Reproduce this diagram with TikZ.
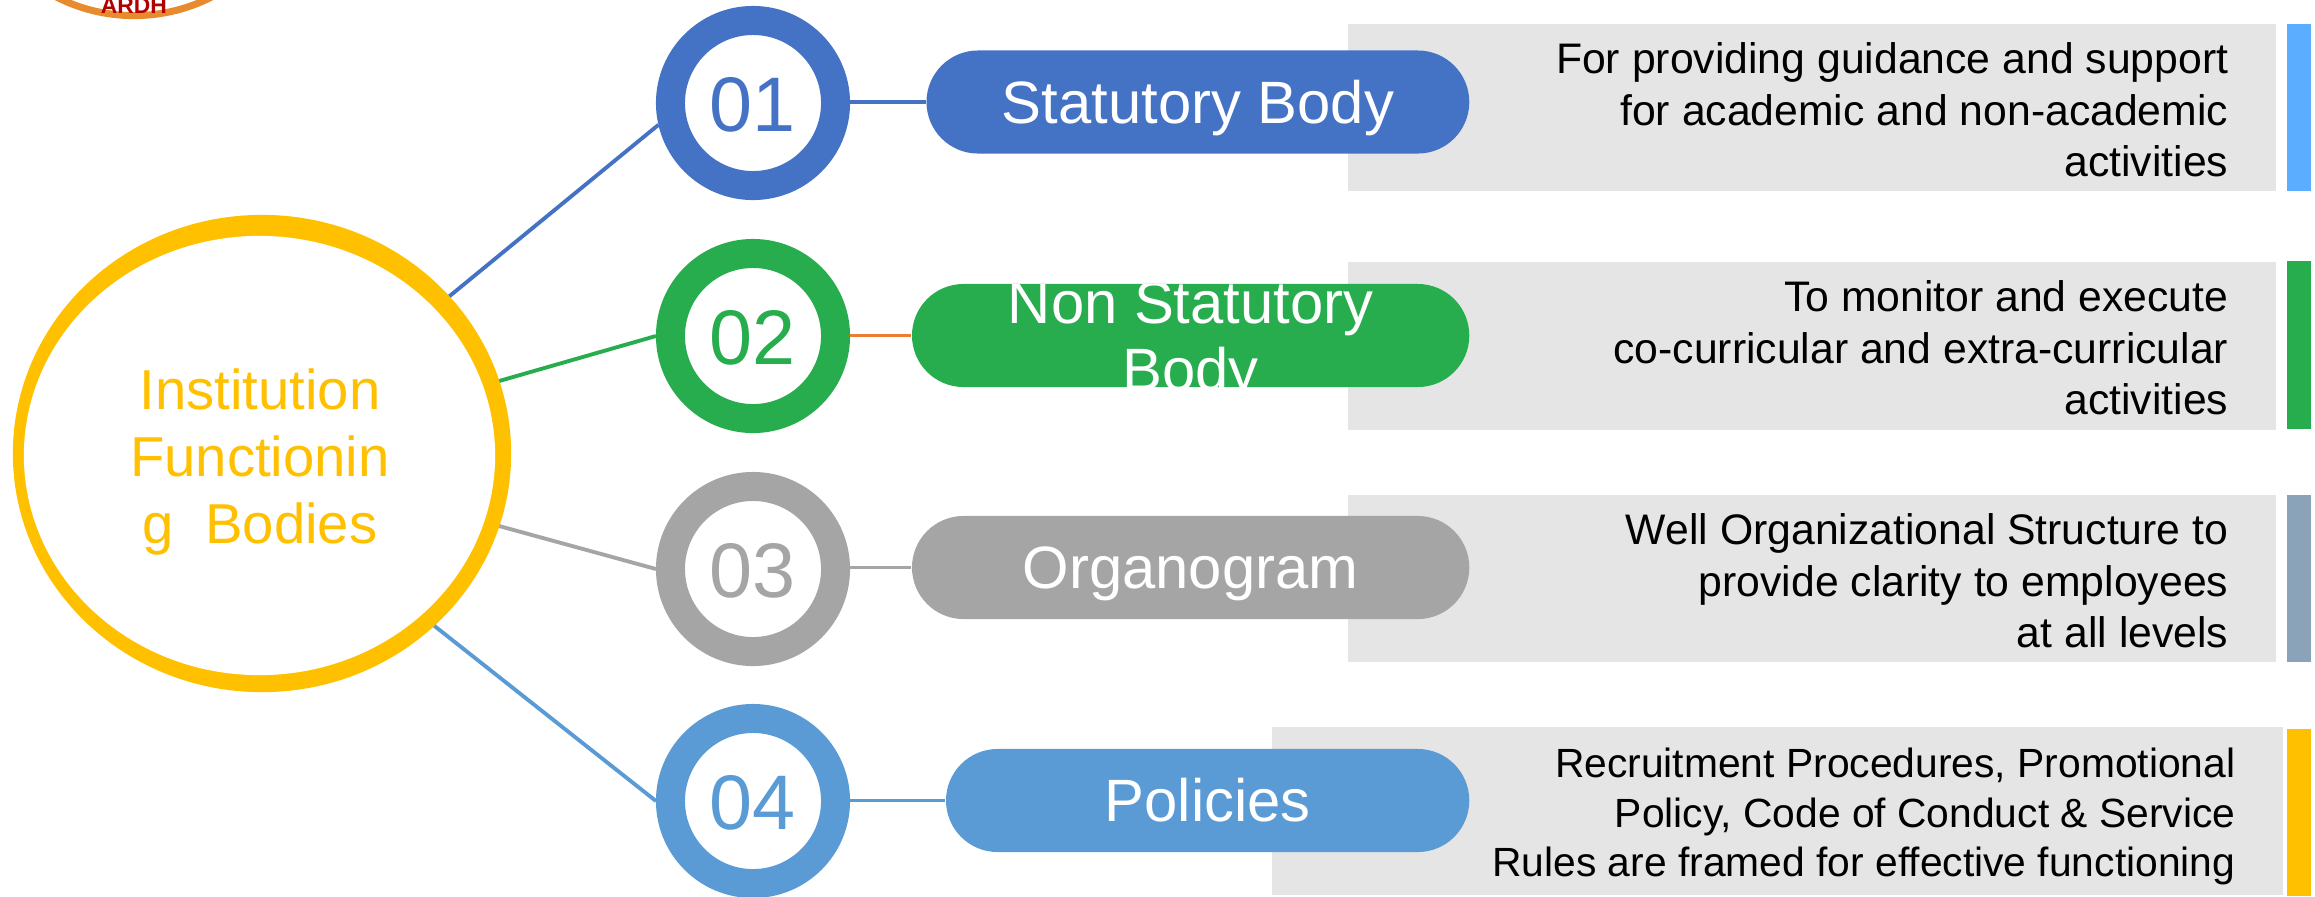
\documentclass[tikz,border=0pt]{standalone}
\usepackage{fontspec}
\setmainfont{Liberation Sans}
\usetikzlibrary{shapes.geometric}
\usetikzlibrary{shapes.misc}

\definecolor{cblue}{HTML}{4472C4}
\definecolor{cgreen}{HTML}{27AD4E}
\definecolor{cgrey}{HTML}{A5A5A5}
\definecolor{csky}{HTML}{5B9BD5}
\definecolor{camber}{HTML}{FFC000}
\definecolor{corange}{HTML}{ED7D31}
\definecolor{cpanel}{HTML}{E5E5E5}
\definecolor{cbarsky}{HTML}{5BAEFF}
\definecolor{cbarslate}{HTML}{8AA3B8}
\definecolor{clogo}{HTML}{E88B2E}

\tikzset{
    hubring/.style={
        ellipse, fill=camber, inner sep=0pt, outer sep=0pt,
        minimum width=4.98cm, minimum height=4.77cm
    },
    hubhole/.style={
        ellipse, fill=white, inner sep=0pt, outer sep=0pt,
        minimum width=4.71cm, minimum height=4.39cm
    },
    hublabel/.style={
        text=camber, align=center, inner sep=0pt,
        font=\fontsize{16}{19}\selectfont
    },
    numring/.style={
        circle, draw=#1, fill=white, line width=.29cm,
        minimum size=1.65cm, inner sep=0pt, text=#1,
        text height=.56cm, text depth=0pt,
        font=\fontsize{22}{26}\selectfont
    },
    pill/.style={
        rounded rectangle, fill=#1, text=white, inner sep=0pt,
        minimum height=1.03cm, anchor=east,
        text height=.42cm, text depth=0pt,
        font=\fontsize{17}{19}\selectfont
    },
    panel/.style={
        rectangle, fill=cpanel, inner sep=0pt,
        minimum height=1.67cm, anchor=east
    },
    note/.style={
        inner sep=0pt, anchor=east, align=right,
        font=\fontsize{12.15}{14.6}\selectfont
    },
    bar/.style={
        rectangle, fill=#1, inner sep=0pt, anchor=west,
        minimum width=.24cm, minimum height=1.67cm
    },
    link/.style={draw=#1, line width=1.1pt}
}

\begin{document}
\begin{tikzpicture}[x=.01cm, y=-.01cm]

    \useasboundingbox (0,0) rectangle (2315,896);

    % Logo
    \node[
        circle,
        draw=clogo,
        fill=white,
        line width=.07cm,
        minimum size=3.41cm,
        inner sep=0pt
    ] (logo) at (134,-155) {};
    \node[anchor=base, text=red!70!black, font=\bfseries\fontsize{6.5}{7}\selectfont] (logotext) at (134,13) {ARDH};

    % Hub
    \node[hubring] (hub) at (262,453.5) {};
    \node[hubhole] (hubinner) at (259.5,455.5) {};
    \node[hublabel] (hubtext) at (260,462) {Institution\\Functionin\\g\ \ Bodies};

    % Numbers
    \node[numring=cblue] (num1) at (753,103) {01};
    \node[numring=cgreen] (num2) at (753,336) {02};
    \node[numring=cgrey] (num3) at (753,569) {03};
    \node[numring=csky] (num4) at (753,801) {04};

    % Panels
    \node[panel, minimum width=9.28cm] (panel1) at (2277,107.5) {};
    \node[panel, minimum width=9.28cm] (panel2) at (2277,346) {};
    \node[panel, minimum width=9.28cm] (panel3) at (2277,578.5) {};
    \node[panel, minimum width=10.11cm] (panel4) at (2284,811) {};

    \node[note] (text1) at (2229,110) {For providing guidance and support\\for academic and non-academic\\activities};
    \node[note] (text2) at (2229,348) {To monitor and execute\\co-curricular and extra-curricular\\activities};
    \node[note] (text3) at (2229,581) {Well Organizational Structure to\\provide clarity to employees\\at all levels};
    \node[note, font=\fontsize{11.6}{14}\selectfont] (text4) at (2236,816.5) {Recruitment Procedures, Promotional\\Policy, Code of Conduct \& Service\\Rules are framed for effective functioning};

    % Bars
    \node[bar=cbarsky] (bar1) at (2286,107.5) {};
    \node[bar=cgreen] (bar2) at (2286,345) {};
    \node[bar=cbarslate] (bar3) at (2286,578.5) {};
    \node[bar=camber] (bar4) at (2286,812.5) {};

    % Pills
    \node[pill=cblue, minimum width=5.425cm] (body1) at (1470,102) {Statutory Body};
    \node[
        pill=cgreen,
        minimum width=5.57cm,
        path picture={
            \node[anchor=center, text=white, align=center, text height=, text depth=, font=\fontsize{17}{19}\selectfont] at ([yshift=-.07cm]path picture bounding box.center) {Non Statutory\\Body};
        }
    ] (body2) at (1470,335.5) {};
    \node[pill=cgrey, minimum width=5.57cm] (body3) at (1470,567.5) {Organogram};
    \node[pill=csky, minimum width=5.23cm] (body4) at (1470,800.5) {Policies};

    % Links
    \draw[link=cblue] (hub.40) -- (num1.193);
    \draw[link=cgreen] (hub.17) -- (num2.west);
    \draw[link=cgrey] (hub.-17) -- (num3.west);
    \draw[link=csky] (hub.-45) -- (num4.west);

    \draw[link=cblue] (num1.east |- body1.west) -- (body1.west);
    \draw[link=corange] (num2.east |- body2.west) -- (body2.west);
    \draw[link=cgrey] (num3.east |- body3.west) -- (body3.west);
    \draw[link=csky] (num4.east |- body4.west) -- (body4.west);

\end{tikzpicture}
\end{document}
